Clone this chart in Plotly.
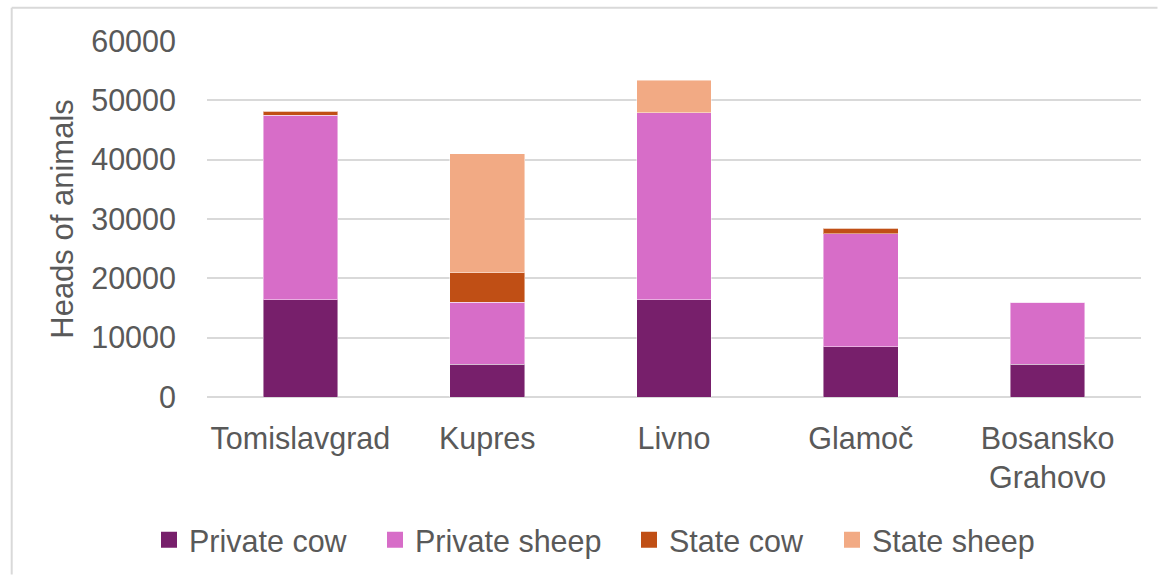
import plotly.graph_objects as go

categories = ["Tomislavgrad", "Kupres", "Livno", "Glamoč", "Bosansko<br>Grahovo"]
private_cow = [16400, 5500, 16400, 8500, 5500]
private_sheep = [31050, 10500, 31500, 19000, 10450]
state_cow = [700, 4900, 0, 900, 0]
state_sheep = [0, 20100, 5500, 0, 0]

series = [
    ("Private cow", private_cow, "#771F6B"),
    ("Private sheep", private_sheep, "#D76DC8"),
    ("State cow", state_cow, "#C04F15"),
    ("State sheep", state_sheep, "#F2AA84"),
]
legend_left_px = [149, 375, 629, 832]

FONT = "Liberation Sans, Arial, sans-serif"
TXT = "#595959"
FS = 30.5

fig = go.Figure()
for name, vals, col in series:
    fig.add_trace(go.Bar(
        x=categories, y=vals, name=name, showlegend=False,
        marker=dict(color=col, line=dict(color="rgba(255,255,255,0.45)", width=1)),
    ))

legend_layout = {}
for i, ((name, vals, col), lx) in enumerate(zip(series, legend_left_px)):
    key = "legend" if i == 0 else f"legend{i + 1}"
    fig.add_trace(go.Scatter(
        x=[None], y=[None], mode="markers", name=name, legend=key, showlegend=True,
        marker=dict(symbol="square", size=17, color=col),
        hoverinfo="skip",
    ))
    legend_layout[key] = dict(
        orientation="h", xref="container", yref="container",
        x=lx / 1158, y=1 - 540 / 575, xanchor="left", yanchor="middle",
        font=dict(size=FS, color=TXT, family=FONT), itemwidth=30,
        bgcolor="rgba(0,0,0,0)",
    )

fig.update_layout(
    barmode="stack",
    bargap=0.6,
    width=1158, height=575,
    margin=dict(l=206.5, r=16.5, t=40.7, b=177.7),
    paper_bgcolor="white", plot_bgcolor="white",
    font=dict(family=FONT, size=FS, color=TXT),
    xaxis=dict(showgrid=False, showline=False, ticks="", tickfont=dict(size=FS, color=TXT),
               tickangle=0, ticklabelstandoff=20),
    yaxis=dict(range=[0, 60000], dtick=10000, showgrid=True, gridcolor="#D9D9D9",
               gridwidth=1.5, zeroline=True, zerolinecolor="#D9D9D9", zerolinewidth=1.5,
               showline=False, ticks="", tickfont=dict(size=FS, color=TXT),
               ticklabelstandoff=30, tickformat="d",
               title=dict(text="Heads of animals", font=dict(size=31, color=TXT), standoff=8)),
    shapes=[
        dict(type="line", xref="paper", yref="paper", x0=-(206.5 - 11) / 935, x1=(1158 - 206.5) / 935,
             y0=(575 - 177.7 - 7.5) / 356.6, y1=(575 - 177.7 - 7.5) / 356.6,
             line=dict(color="#D9D9D9", width=2)),
        dict(type="line", xref="paper", yref="paper", x0=-(206.5 - 11) / 935, x1=-(206.5 - 11) / 935,
             y0=-177.7 / 356.6, y1=(575 - 177.7 - 7.5) / 356.6,
             line=dict(color="#D9D9D9", width=2)),
    ],
    **legend_layout,
)

fig.write_html("out.html")
